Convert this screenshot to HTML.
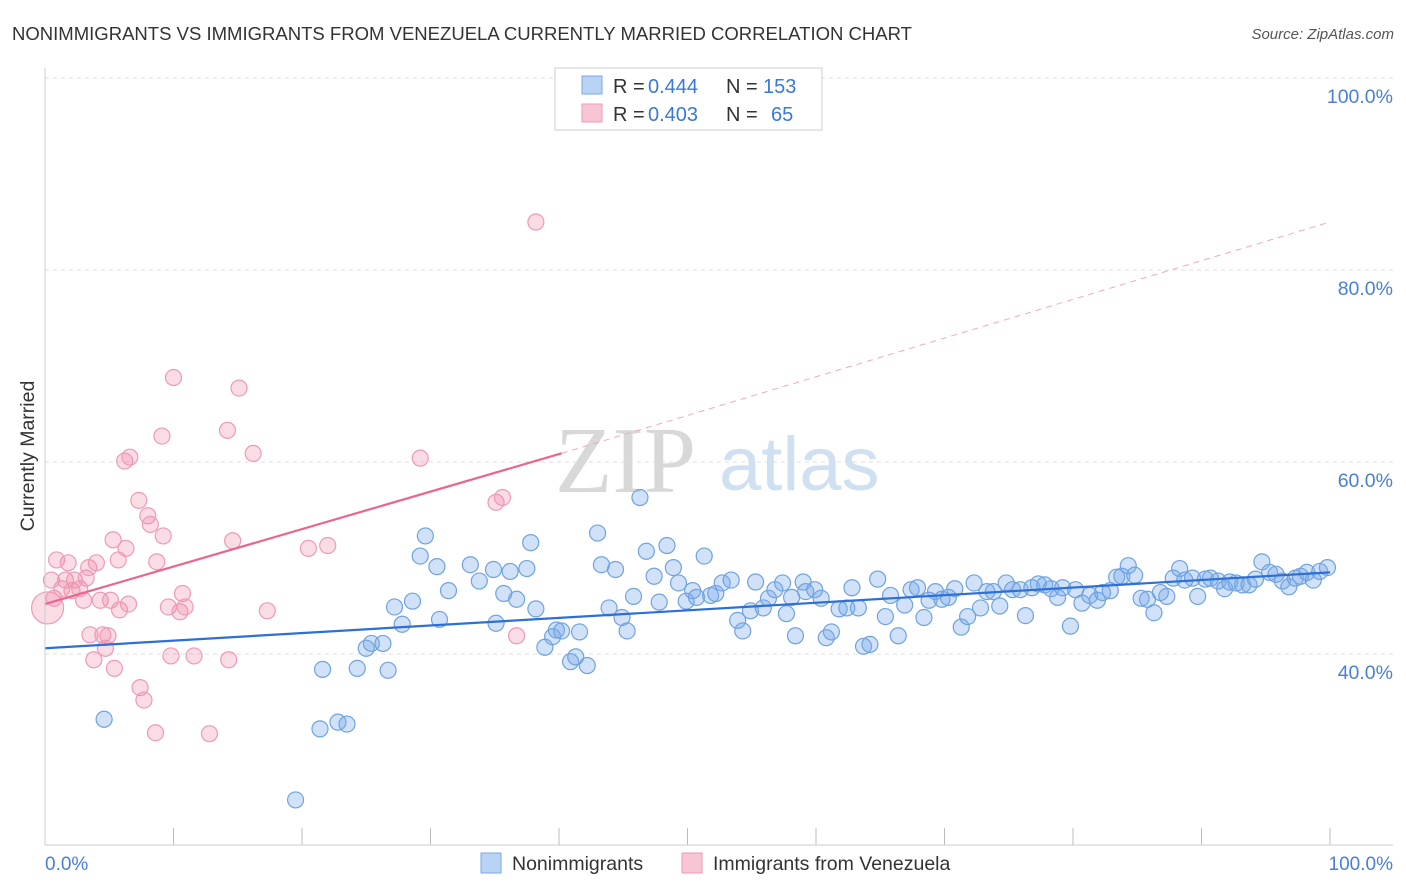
<!DOCTYPE html>
<html><head><meta charset="utf-8"><style>
body{margin:0;background:#fff;font-family:"Liberation Sans",sans-serif;}
#wrap{position:relative;width:1406px;height:892px;overflow:hidden}
svg text{font-family:"Liberation Sans",sans-serif}
</style></head><body>
<div id="wrap">
<svg id="svg" width="1406" height="892" xmlns="http://www.w3.org/2000/svg">
<text x="12" y="40" font-size="18.3" fill="#333" textLength="900" lengthAdjust="spacingAndGlyphs">NONIMMIGRANTS VS IMMIGRANTS FROM VENEZUELA CURRENTLY MARRIED CORRELATION CHART</text>
<text x="1394" y="39" font-size="15" fill="#555" font-style="italic" text-anchor="end">Source: ZipAtlas.com</text>
<text x="34" y="456" font-size="19.5" fill="#333" transform="rotate(-90 34 456)" text-anchor="middle">Currently Married</text>
<text x="555" y="492" font-size="94" fill="#d8d8d8" style="font-family:'Liberation Serif',serif">ZIP</text>
<text x="719" y="490" font-size="76" fill="#cfe0f3">atlas</text>
<g id="grid"></g><g id="marks"></g><g id="lines"></g>
<line x1="45" y1="845" x2="1393" y2="845" stroke="#ccc"/>
<line x1="45" y1="68" x2="45" y2="845" stroke="#ccc"/>
<text x="45" y="870" font-size="19" fill="#4a7fd6">0.0%</text>
<text x="1393" y="870" font-size="19" fill="#4a7fd6" text-anchor="end">100.0%</text>
<g>
<rect x="555" y="68" width="267" height="62" fill="#fff" stroke="#ccc"/>
<rect x="582" y="76" width="20" height="18" fill="#b8d3f3" stroke="#7aaae6"/>
<rect x="582" y="104" width="20" height="18" fill="#f8c5d5" stroke="#ee9ab5"/>
<text x="613" y="93" font-size="20" fill="#333">R =</text>
<text x="648" y="93" font-size="20" fill="#3a78d8">0.444</text>
<text x="726" y="93" font-size="20" fill="#333">N =</text>
<text x="763" y="93" font-size="20" fill="#3a78d8">153</text>
<text x="613" y="121" font-size="20" fill="#333">R =</text>
<text x="648" y="121" font-size="20" fill="#3a78d8">0.403</text>
<text x="726" y="121" font-size="20" fill="#333">N =</text>
<text x="771" y="121" font-size="20" fill="#3a78d8">65</text>
</g>
<g>
<rect x="481" y="853" width="20" height="20" fill="#b8d3f3" stroke="#7aaae6"/>
<text x="512" y="870" font-size="19.5" fill="#333">Nonimmigrants</text>
<rect x="682" y="853" width="20" height="20" fill="#f8c5d5" stroke="#ee9ab5"/>
<text x="713" y="870" font-size="19.5" fill="#333">Immigrants from Venezuela</text>
</g>
</svg></div>
<script>
const yTicks=[40,60,80,100];
const xTicks=[0,10,20,30,40,50,60,70,80,90,100];
const blueX=[4.6,19.5,21.4,21.6,22.8,23.5,24.3,25.0,25.4,26.3,26.7,27.2,27.8,28.6,29.2,29.6,30.5,30.7,31.4,33.1,33.8,34.9,35.1,35.7,36.2,36.7,37.5,37.8,38.2,38.9,39.5,39.8,40.2,40.9,41.3,41.6,42.2,43.0,43.3,43.9,44.4,44.9,45.3,45.8,46.3,46.8,47.4,47.8,48.4,48.9,49.3,49.9,50.4,50.7,51.3,51.8,52.2,52.7,53.4,53.9,54.3,54.9,55.3,55.9,56.3,56.8,57.4,57.7,58.1,58.4,59.0,59.2,59.9,60.4,60.8,61.2,61.8,62.4,62.8,63.3,63.7,64.2,64.8,65.4,65.8,66.4,66.9,67.4,67.9,68.4,68.8,69.3,69.8,70.3,70.8,71.3,71.8,72.3,72.8,73.3,73.8,74.3,74.8,75.3,75.9,76.3,76.8,77.3,77.8,78.3,78.8,79.2,79.8,80.2,80.7,81.3,81.9,82.3,82.9,83.4,83.8,84.3,84.8,85.3,85.8,86.3,86.8,87.3,87.8,88.3,88.7,89.3,89.7,90.3,90.7,91.3,91.8,92.2,92.7,93.2,93.7,94.2,94.7,95.3,95.8,96.3,96.8,97.3,97.7,98.2,98.7,99.2,99.8];
const blueY=[33.2,24.8,32.2,38.4,32.9,32.7,38.5,40.6,41.1,41.1,38.3,44.9,43.1,45.5,50.2,52.3,49.1,43.6,46.6,49.3,47.6,48.8,43.2,46.3,48.6,45.7,48.9,51.6,44.7,40.7,41.8,42.5,42.4,39.2,39.7,42.3,38.8,52.6,49.3,44.8,48.8,43.8,42.4,46.0,56.3,50.7,48.1,45.4,51.3,49.0,47.4,45.5,46.6,45.9,50.2,46.1,46.3,47.4,47.7,43.5,42.4,44.5,47.5,44.8,45.8,46.7,47.4,44.2,45.9,41.9,47.5,46.5,46.7,45.8,41.7,42.3,44.7,44.8,46.9,44.8,40.8,41.0,47.8,43.9,46.1,41.9,45.1,46.7,46.9,43.8,45.6,46.5,45.7,45.9,46.8,42.8,43.9,47.4,44.8,46.5,46.5,45.0,47.4,46.7,46.7,44.0,46.9,47.3,47.2,46.8,45.9,46.9,42.9,46.7,45.3,46.1,45.6,46.4,46.6,48.0,48.1,49.2,48.2,45.8,45.7,44.3,46.4,46.0,47.9,48.9,47.7,47.9,46.0,47.8,47.9,47.6,46.8,47.5,47.4,47.2,47.2,47.8,49.6,48.5,48.3,47.6,47.0,47.9,48.1,48.5,47.7,48.6,49.0];
const pinkX=[0.5,0.7,0.9,1.3,1.6,1.8,2.1,2.3,2.7,3.0,3.2,3.4,3.5,3.8,4.0,4.3,4.5,4.7,4.9,5.1,5.3,5.4,5.7,5.8,6.2,6.3,6.5,6.6,7.3,7.4,7.7,8.0,8.2,8.6,8.7,9.1,9.2,9.6,9.8,10.0,10.5,10.7,10.9,11.6,12.8,14.2,14.3,14.6,15.1,16.2,17.3,20.5,22.0,29.2,35.1,35.6,36.7,38.2];
const pinkY=[47.7,45.8,49.8,46.8,47.7,49.5,46.6,47.7,46.8,45.6,47.9,49.0,42.0,39.4,49.5,45.6,42.0,40.6,41.9,45.6,51.9,38.5,49.8,44.6,60.1,51.0,45.2,60.5,56.0,36.5,35.2,54.4,53.5,31.8,49.6,62.7,52.3,44.9,39.8,68.8,44.4,46.3,44.9,39.8,31.7,63.3,39.4,51.8,67.7,60.9,44.5,51.0,51.3,60.4,55.8,56.3,41.9,85.0];
const blueLine=[40.6,48.5];
const pinkLine=[45.2,60.9,85.0];
const pinkSolidEnd=40.2, pinkDashEnd=100;
const X=v=>45+v*12.85, Y=v=>1038-v*9.6;
const NS="http://www.w3.org/2000/svg";
function mk(t,a,p){const e=document.createElementNS(NS,t);for(const k in a)e.setAttribute(k,a[k]);p.appendChild(e);return e;}
const grid=document.getElementById('grid'),marks=document.getElementById('marks'),lines=document.getElementById('lines');
yTicks.forEach(t=>{
 const l=mk('line',{x1:45,x2:1393,y1:Y(t),y2:Y(t),stroke:'#ddd','stroke-dasharray':'4,4'},grid);
 
 
 const tx=mk('text',{x:1393,y:Y(t)+25,'font-size':19.5,fill:'#4a7fd6','text-anchor':'end'},grid);
 tx.textContent=t.toFixed(1)+'%';
 
 
});
xTicks.forEach(t=>{
 const l=mk('line',{x1:X(t),x2:X(t),y1:828,y2:845,stroke:'#bbb'},grid);
 
 
});
blueX.forEach((x,i)=>{
 const c=mk('circle',{cx:X(x),cy:Y(blueY[i]),r:8,fill:'rgba(120,170,235,0.35)',stroke:'#6fa3e0','stroke-width':1.2},marks);
 
 
});
const big=mk('circle',{cx:X(0.2),cy:Y(44.8),r:16,fill:'rgba(240,140,170,0.3)',stroke:'#ee9ab5','stroke-width':1.2},marks);


pinkX.forEach((x,i)=>{
 const c=mk('circle',{cx:X(x),cy:Y(pinkY[i]),r:8,fill:'rgba(240,140,170,0.3)',stroke:'#ee9ab5','stroke-width':1.2},marks);
 
 
});
const bl=mk('line',{x1:X(0),y1:Y(blueLine[0]),x2:X(100),y2:Y(blueLine[1]),stroke:'#2d6fd6','stroke-width':2.2},lines);


const pl=mk('line',{x1:X(0),y1:Y(pinkLine[0]),x2:X(pinkSolidEnd),y2:Y(pinkLine[1]),stroke:'#e8668f','stroke-width':2.2},lines);


const pd=mk('line',{x1:X(pinkSolidEnd),y1:Y(pinkLine[1]),x2:X(pinkDashEnd),y2:Y(pinkLine[2]),stroke:'#eeaabf','stroke-width':1,'stroke-dasharray':'6,5'},lines);


</script>
</body></html>
